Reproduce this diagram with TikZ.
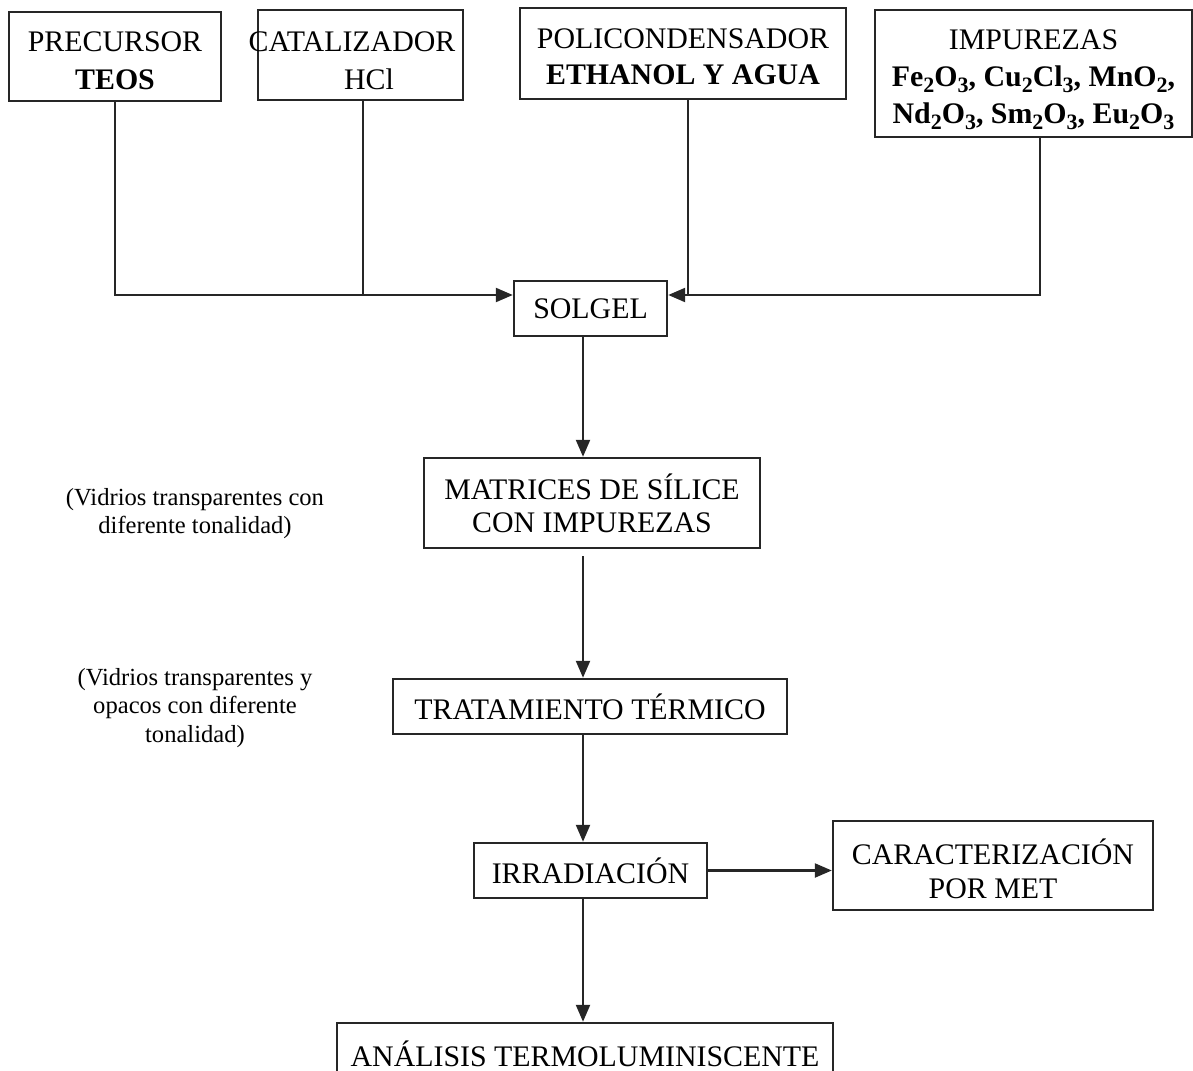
\documentclass[tikz,border=0pt]{standalone}
\usepackage{fontspec}
\setmainfont{Liberation Serif}
\usetikzlibrary{arrows.meta,calc}
\newcommand\sbs[1]{\raisebox{-0.45ex}{\fontsize{12.5}{12.5}\selectfont #1}}
\begin{document}
\begin{tikzpicture}[x=0.02cm,y=-0.02cm,
  box/.style={draw=black!85,line width=1.4pt,inner sep=0pt,align=center,font=\fontsize{17}{20}\selectfont},
  link/.style={draw=black!85,line width=1.3pt},
  arr/.style={link,-{Triangle[length=0.34cm,width=0.28cm]}},
  note/.style={align=center,font=\fontsize{14}{16}\selectfont}]
\useasboundingbox (0,0) rectangle (1193,1071);

\node[box,minimum width=4.24cm,minimum height=1.78cm,text height=1.54cm,text depth=0.2cm,font=\fontsize{17}{22}\selectfont] (pre) at (115,56.5) {PRECURSOR\\\textbf{TEOS}};
\node[box,minimum width=4.1cm,minimum height=1.8cm,text height=1.6cm,text depth=0.2cm,font=\fontsize{17}{22}\selectfont] (cat) at (360.5,55) {\makebox[0pt]{\hspace*{-0.34cm}CATALIZADOR}\\\makebox[0pt]{\hspace*{0.34cm}HCl}};
\node[box,minimum width=6.52cm,minimum height=1.82cm,text height=1.46cm,text depth=0.2cm,font=\fontsize{17}{21}\selectfont] (pol) at (683,53.5) {POLICONDENSADOR\\\textbf{ETHANOL Y AGUA}};
\node[box,minimum width=6.34cm,minimum height=2.54cm,text height=2.1cm,text depth=0.1cm,font=\fontsize{17}{21}\selectfont] (imp) at (1033.5,73.5) {IMPUREZAS\\\textbf{Fe\sbs{2}O\sbs{3}, Cu\sbs{2}Cl\sbs{3}, MnO\sbs{2},}\\\textbf{Nd\sbs{2}O\sbs{3}, Sm\sbs{2}O\sbs{3}, Eu\sbs{2}O\sbs{3}}};

\node[box,minimum width=3.06cm,minimum height=1.1cm] (sol) at (590.5,308.5) {SOLGEL};
\node[box,minimum width=6.72cm,minimum height=1.8cm,text height=1.4cm,text depth=0.2cm,font=\fontsize{17}{18.8}\selectfont] (mat) at (592,503) {MATRICES DE SÍLICE\\CON IMPUREZAS};
\node[box,minimum width=7.88cm,minimum height=1.1cm] (trat) at (590,706.5) {TRATAMIENTO TÉRMICO};
\node[box,minimum width=4.66cm,minimum height=1.1cm] (irr) at (590.5,870.5) {IRRADIACIÓN};
\node[box,minimum width=6.4cm,minimum height=1.78cm,text height=1.5cm,text depth=0.2cm,font=\fontsize{17}{18.8}\selectfont] (car) at (993,865.5) {CARACTERIZACIÓN\\POR MET};
\node[box,minimum width=9.92cm,minimum height=1.24cm] (ana) at (585,1054) {ANÁLISIS TERMOLUMINISCENTE};

\node[note] (n1) at (195,514) {(Vidrios transparentes con\\diferente tonalidad)};
\node[note] (n2) at (195,708) {(Vidrios transparentes y\\opacos con diferente\\tonalidad)};

\coordinate (jl) at ($(sol.west)+(0,-13.5)$);
\coordinate (jr) at ($(sol.east)+(0,-13.5)$);
\coordinate (col) at (583,0);
\draw[arr] (pre.south) |- (jl);
\draw[link] ($(cat.south)+(2.5,0)$) -- ($(cat.south |- jl)+(2.5,0)$);
\draw[link] ($(pol.south)+(5,0)$) -- ($(pol.south |- jr)+(5,0)$);
\draw[arr] ($(imp.south)+(6.5,0)$) |- (jr);
\draw[arr] (sol.south -| col) -- (mat.north -| col);
\draw[arr,shorten <=0.14cm] (mat.south -| col) -- (trat.north -| col);
\draw[arr] (trat.south -| col) -- (irr.north -| col);
\draw[arr] (irr.south -| col) -- (ana.north -| col);
\draw[arr] (irr.east) -- (car.west |- irr.east);
\end{tikzpicture}
\end{document}
